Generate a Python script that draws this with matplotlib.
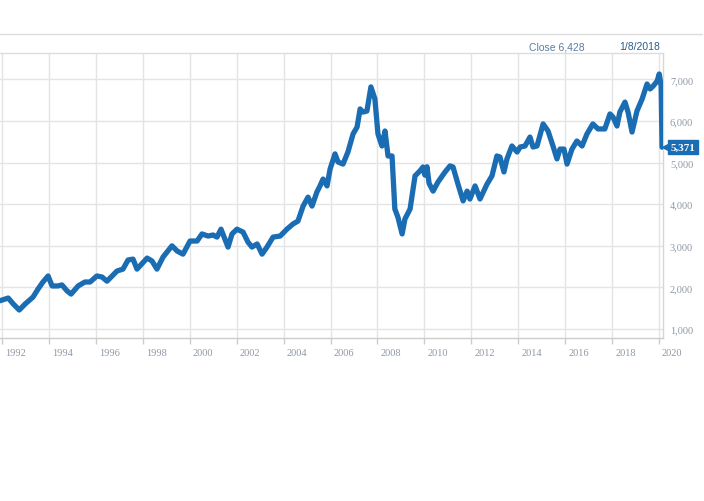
import matplotlib
matplotlib.use('Agg')

import matplotlib.pyplot as plt
import matplotlib.transforms as mtransforms
from matplotlib.lines import Line2D
from matplotlib.ticker import StrMethodFormatter

# index close (decimal year, value)
years = [1991.91, 1992.26, 1992.48, 1992.73, 1992.98, 1993.32, 1993.53, 1993.74, 1993.96,
         1994.13, 1994.38, 1994.55, 1994.77, 1994.94, 1995.24, 1995.53, 1995.75, 1996.04,
         1996.26, 1996.47, 1996.90, 1997.15, 1997.37, 1997.58, 1997.75, 1998.18, 1998.39,
         1998.60, 1998.86, 1999.24, 1999.46, 1999.71, 2000.01, 2000.31, 2000.52, 2000.78,
         2000.99, 2001.16, 2001.33, 2001.63, 2001.80, 2002.01, 2002.27, 2002.48, 2002.65,
         2002.87, 2003.08, 2003.29, 2003.55, 2003.85, 2004.14, 2004.40, 2004.61, 2004.83,
         2005.04, 2005.21, 2005.42, 2005.55, 2005.68, 2005.85, 2005.98, 2006.19, 2006.32,
         2006.53, 2006.74, 2006.96, 2007.13, 2007.26, 2007.38, 2007.55, 2007.72, 2007.89,
         2008.02, 2008.19, 2008.32, 2008.45, 2008.62, 2008.74, 2008.87, 2009.05, 2009.17,
         2009.39, 2009.60, 2009.81, 2009.94, 2010.02, 2010.11, 2010.20, 2010.37, 2010.58,
         2010.88, 2011.09, 2011.22, 2011.43, 2011.65, 2011.82, 2011.94, 2012.16, 2012.37,
         2012.67, 2012.88, 2013.09, 2013.22, 2013.39, 2013.52, 2013.73, 2013.95, 2014.08,
         2014.29, 2014.50, 2014.63, 2014.80, 2015.06, 2015.27, 2015.48, 2015.65, 2015.78,
         2015.95, 2016.08, 2016.29, 2016.50, 2016.72, 2016.93, 2017.18, 2017.40, 2017.69,
         2017.91, 2018.04, 2018.21, 2018.33, 2018.55, 2018.68, 2018.85, 2019.06, 2019.28,
         2019.49, 2019.62, 2019.75, 2019.92, 2020.01, 2020.09, 2020.13]
close = [1680, 1745, 1600, 1457, 1600, 1770, 1960, 2130, 2275,
         2035, 2035, 2060, 1915, 1840, 2035, 2130, 2130, 2275,
         2250, 2150, 2395, 2440, 2660, 2680, 2440, 2705, 2635,
         2440, 2730, 3000, 2875, 2800, 3115, 3115, 3285, 3235,
         3260, 3210, 3400, 2970, 3285, 3400, 3330, 3090, 2970,
         3045, 2800, 2970, 3210, 3235, 3400, 3525, 3595, 3955,
         4170, 3955, 4295, 4440, 4605, 4440, 4845, 5210, 5015,
         4965, 5255, 5690, 5855, 6290, 6215, 6240, 6820, 6530,
         5690, 5400, 5760, 5160, 5160, 3885, 3690, 3285, 3645,
         3885, 4680, 4800, 4895, 4700, 4900, 4500, 4315, 4535,
         4775, 4920, 4895, 4485, 4080, 4315, 4125, 4440, 4125,
         4485, 4680, 5160, 5135, 4775, 5090, 5400, 5255, 5375,
         5400, 5615, 5375, 5400, 5930, 5760, 5400, 5090, 5325,
         5325, 4965, 5325, 5520, 5400, 5690, 5930, 5810, 5810,
         6170, 6095, 5880, 6215, 6455, 6215, 5735, 6240, 6530,
         6890, 6770, 6840, 6960, 7130, 6840, 5371]

x_ticks = list(range(1992, 2021, 2))
y_ticks = [1000, 2000, 3000, 4000, 5000, 6000, 7000]
close_label = 'Close 6,428'
date_label = '1/8/2018'

blue = '#1a6cb3'
grid_c = '#e4e4e4'
tick_c = '#8f98a6'

fig = plt.figure(figsize=(7.04, 5.02), dpi=100)
ax = fig.add_axes([0.0, 1 - 339 / 502, 663 / 704, (339 - 54) / 502])

ax.plot(years, close, color=blue, lw=3.8, solid_joinstyle='round', solid_capstyle='round', zorder=3)

ax.set_xlim(1991.91, 2020.17)
ax.set_ylim(784, 7635)
ax.set_xticks(x_ticks)
ax.set_yticks(y_ticks)
ax.grid(True, color=grid_c, lw=1)
ax.set_axisbelow(True)

ax.yaxis.tick_right()
ax.yaxis.set_major_formatter(StrMethodFormatter('{x:,.0f}'))
ax.tick_params(axis='y', length=0, pad=5, labelsize=7.5, labelcolor=tick_c)
ax.tick_params(axis='x', length=4, width=1, color='#cccccc', pad=3, labelsize=7.5, labelcolor=tick_c)
for lab in ax.get_yticklabels():
    lab.set_fontfamily('Liberation Serif')
offset = mtransforms.ScaledTranslation(3 / 100, 0, fig.dpi_scale_trans)
for lab in ax.get_xticklabels():
    lab.set_fontfamily('Liberation Serif')
    lab.set_ha('left')
    lab.set_transform(lab.get_transform() + offset)

ax.spines['left'].set_visible(False)
ax.spines['top'].set_color('#dddddd')
ax.spines['right'].set_color('#d6d6d6')
ax.spines['bottom'].set_color('#cccccc')
for s in ['top', 'right', 'bottom']:
    ax.spines[s].set_linewidth(1)

# last value marker + label
trans = mtransforms.blended_transform_factory(ax.transAxes, ax.transData)
ax.plot([1.006], [close[-1]], marker='<', ms=7, color=blue, transform=trans, clip_on=False, zorder=4)
ax.text(1.012, close[-1], f'{close[-1]:,}', transform=trans, ha='left', va='center',
        fontsize=8, fontweight='bold', color='white', family='Liberation Serif',
        bbox=dict(boxstyle='square,pad=0.25', fc=blue, ec=blue), clip_on=False, zorder=4)

# header
fig.add_artist(Line2D([0, 702 / 704], [1 - 35 / 502] * 2, transform=fig.transFigure, color='#dddddd', lw=1))
fig.text(585 / 704, 1 - 47 / 502, close_label, ha='right', va='center', fontsize=7.5,
         color='#5b7ca3', family='Liberation Sans')
fig.text(660 / 704, 1 - 47 / 502, date_label, ha='right', va='center', fontsize=7.5,
         color='#2f5b8a', family='Liberation Sans')

plt.savefig('out.png', dpi=100)
